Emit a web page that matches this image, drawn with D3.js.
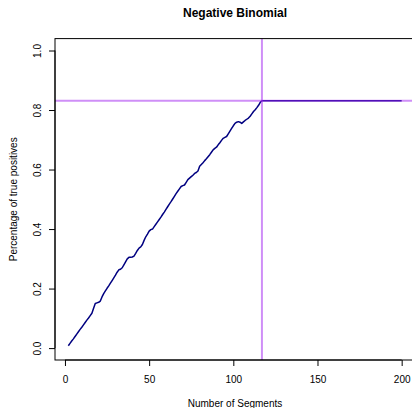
<!DOCTYPE html>
<html>
<head>
<meta charset="utf-8">
<script src="https://cdn.jsdelivr.net/npm/d3@7"></script>
<style>
  html, body { margin: 0; padding: 0; background: #ffffff; }
  svg { display: block; }
  text { font-family: "Liberation Sans", Arial, Helvetica, sans-serif; fill: #000; }
</style>
</head>
<body>
<svg id="chart" width="412" height="408"></svg>
<script>
// ---- data ----
const title = "Negative Binomial";
const xLabel = "Number of Segments";
const yLabel = "Percentage of true positives";
const xTicks = [0, 50, 100, 150, 200];
const yTicks = [0.0, 0.2, 0.4, 0.6, 0.8, 1.0];
const segmentStart = 2;   // first number of segments
// percentage of true positives for segments 2..200
const tpRate = [
  0.008, 0.016, 0.024, 0.031, 0.039, 0.047, 0.055, 0.063, 0.070,            // 2-10
  0.078, 0.086, 0.094, 0.101, 0.109, 0.117, 0.134, 0.150, 0.152, 0.154,     // 11-20
  0.158, 0.172, 0.183, 0.192, 0.201, 0.209, 0.218, 0.227, 0.236, 0.245,     // 21-30
  0.255, 0.263, 0.265, 0.270, 0.280, 0.290, 0.300, 0.305, 0.305, 0.306,     // 31-40
  0.309, 0.318, 0.328, 0.336, 0.340, 0.348, 0.362, 0.374, 0.383, 0.393,     // 41-50
  0.398, 0.400, 0.408, 0.416, 0.424, 0.432, 0.440, 0.449, 0.457, 0.466,     // 51-60
  0.475, 0.484, 0.492, 0.501, 0.510, 0.519, 0.527, 0.535, 0.543, 0.546,     // 61-70
  0.548, 0.557, 0.566, 0.571, 0.576, 0.581, 0.587, 0.590, 0.595, 0.611,     // 71-80
  0.617, 0.623, 0.630, 0.636, 0.643, 0.650, 0.658, 0.666, 0.671, 0.675,     // 81-90
  0.683, 0.690, 0.698, 0.705, 0.708, 0.711, 0.720, 0.729, 0.738, 0.747,     // 91-100
  0.755, 0.759, 0.761, 0.759, 0.755, 0.760, 0.765, 0.769, 0.773, 0.779,     // 101-110
  0.787, 0.795, 0.801, 0.808, 0.816, 0.826, 0.831, 0.831, 0.831, 0.831,     // 111-120
  0.831, 0.831, 0.831, 0.831, 0.831, 0.831, 0.831, 0.831, 0.831, 0.831,     // 121-130
  0.831, 0.831, 0.831, 0.831, 0.831, 0.831, 0.831, 0.831, 0.831, 0.831,     // 131-140
  0.831, 0.831, 0.831, 0.831, 0.831, 0.831, 0.831, 0.831, 0.831, 0.831,     // 141-150
  0.831, 0.831, 0.831, 0.831, 0.831, 0.831, 0.831, 0.831, 0.831, 0.831,     // 151-160
  0.831, 0.831, 0.831, 0.831, 0.831, 0.831, 0.831, 0.831, 0.831, 0.831,     // 161-170
  0.831, 0.831, 0.831, 0.831, 0.831, 0.831, 0.831, 0.831, 0.831, 0.831,     // 171-180
  0.831, 0.831, 0.831, 0.831, 0.831, 0.831, 0.831, 0.831, 0.831, 0.831,     // 181-190
  0.831, 0.831, 0.831, 0.831, 0.831, 0.831, 0.831, 0.831, 0.831, 0.831      // 191-200
];
const cutX = 117;     // vertical reference line
const cutY = 0.831;   // horizontal reference line

// ---- layout ----
const svg = d3.select("#chart");
const W = 412, H = 408;
const plot = { left: 55, top: 38.6, right: 415, bottom: 360 };

const points = tpRate.map((v, i) => ({ x: segmentStart + i, y: v }));
const xMin = segmentStart, xMax = segmentStart + tpRate.length - 1;
const xPad = (xMax - xMin) * 0.04;

const x = d3.scaleLinear().domain([xMin - xPad, xMax + xPad]).range([plot.left, plot.right]);
const y = d3.scaleLinear().domain([-0.04, 1.04]).range([plot.bottom, plot.top]);

svg.append("rect").attr("width", W).attr("height", H).attr("fill", "#ffffff");

svg.append("clipPath").attr("id", "clip")
  .append("rect")
  .attr("x", plot.left).attr("y", plot.top)
  .attr("width", plot.right - plot.left).attr("height", plot.bottom - plot.top);

const g = svg.append("g").attr("clip-path", "url(#clip)");

// data line
const line = d3.line().x(d => x(d.x)).y(d => y(d.y));
g.append("path")
  .datum(points)
  .attr("fill", "none")
  .attr("stroke", "#000080")
  .attr("stroke-width", 1.5)
  .attr("stroke-linejoin", "round")
  .attr("d", line);

// reference lines (semi-transparent purple)
g.append("line")
  .attr("x1", plot.left).attr("x2", plot.right)
  .attr("y1", y(cutY)).attr("y2", y(cutY))
  .attr("stroke", "#A020F0").attr("stroke-opacity", 0.5).attr("stroke-width", 2);
g.append("line")
  .attr("x1", x(cutX)).attr("x2", x(cutX))
  .attr("y1", plot.top).attr("y2", plot.bottom)
  .attr("stroke", "#A020F0").attr("stroke-opacity", 0.5).attr("stroke-width", 2);

// box
svg.append("rect")
  .attr("x", plot.left).attr("y", plot.top)
  .attr("width", plot.right - plot.left).attr("height", plot.bottom - plot.top)
  .attr("fill", "none").attr("stroke", "#000").attr("stroke-width", 1);

// x axis
const xAxis = d3.axisBottom(x).tickValues(xTicks).tickFormat(d3.format("d"))
  .tickSize(6).tickSizeOuter(0).tickPadding(10);
const xg = svg.append("g").attr("transform", `translate(0,${plot.bottom})`).call(xAxis);
xg.select(".domain").attr("d", `M${x(xTicks[0])},0H${x(xTicks[xTicks.length - 1])}`);
xg.selectAll("text").attr("font-size", 10).attr("font-family", "Liberation Sans, Arial, sans-serif");

// y axis
const yAxis = d3.axisLeft(y).tickValues(yTicks).tickFormat(d3.format(".1f"))
  .tickSize(6).tickSizeOuter(0);
const yg = svg.append("g").attr("transform", `translate(${plot.left},0)`).call(yAxis);
yg.select(".domain").attr("d", `M0,${y(yTicks[0])}V${y(yTicks[yTicks.length - 1])}`);
yg.selectAll("text")
  .attr("font-size", 10).attr("font-family", "Liberation Sans, Arial, sans-serif")
  .attr("x", null).attr("dy", null)
  .attr("text-anchor", "middle")
  .attr("transform", "translate(-14,0) rotate(-90)");

// titles
svg.append("text")
  .attr("x", (plot.left + plot.right) / 2).attr("y", 17)
  .attr("text-anchor", "middle")
  .attr("font-size", 12).attr("font-weight", "bold")
  .text(title);

svg.append("text")
  .attr("x", (plot.left + plot.right) / 2).attr("y", 407)
  .attr("text-anchor", "middle")
  .attr("font-size", 10)
  .text(xLabel);

svg.append("text")
  .attr("transform", `translate(17,${(plot.top + plot.bottom) / 2}) rotate(-90)`)
  .attr("text-anchor", "middle")
  .attr("font-size", 10)
  .text(yLabel);
</script>
</body>
</html>
